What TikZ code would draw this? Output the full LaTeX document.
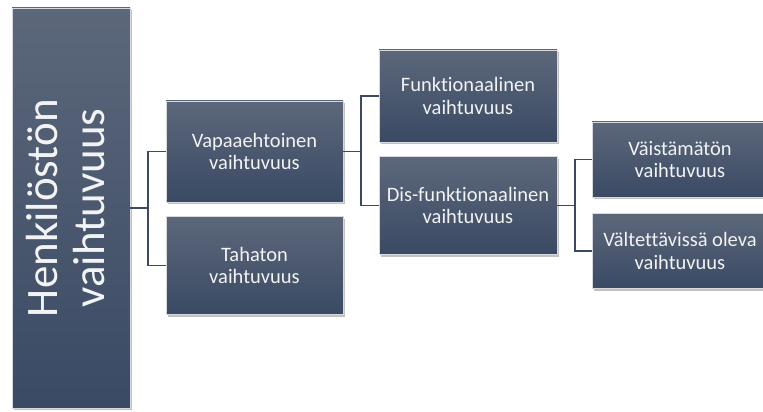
\documentclass[tikz,border=0pt]{standalone}
\usepackage{fontspec}
\setmainfont{Carlito}[Ligatures=NoCommon]
\usepackage{tikz}
\usetikzlibrary{positioning,shadows}
\definecolor{Slate}{HTML}{5C677A}
\definecolor{Navy}{HTML}{3A4A64}
\definecolor{Wire}{HTML}{3B4A60}
\tikzset{
 box/.style={rectangle,top color=Slate,bottom color=Navy,draw=white!75!Slate,line width=0.6pt,
   text=white!92!Slate,align=center,font=\fontsize{20.5}{22.5}\selectfont,
   minimum width=177pt,inner sep=2pt,
   drop shadow={shadow xshift=1.5pt,shadow yshift=-2.5pt,opacity=0.35,fill=black!70}},
 conn/.style={draw=Wire,line width=1.8pt}
}
\begin{document}
\begin{tikzpicture}[x=1pt,y=1pt,node distance=14pt]
\useasboundingbox (0,0) rectangle (763,412);
\node[box,minimum width=118pt,minimum height=400pt,font=\fontsize{45}{50}\selectfont] (root) at (71,204)
  {\rotatebox{90}{\begin{tabular}{@{}c@{}}Henkilöstön\\[-4pt] vaihtuvuus\end{tabular}}};
\node[box,minimum height=101pt] (vapaa) at (254.5,260.5) {Vapaaehtoinen\\vaihtuvuus};
\node[box,minimum height=98pt,below=of vapaa] (tahaton) {Tahaton\\vaihtuvuus};
\node[box,minimum width=178pt,minimum height=92pt] (funk) at (468,316) {Funktionaalinen\\vaihtuvuus};
\node[box,minimum width=178pt,minimum height=98pt,below=of funk] (dis) {Dis-funktionaalinen\\vaihtuvuus};
\node[box,minimum width=176pt,minimum height=75pt] (vaist) at (680,252.5) {Väistämätön\\vaihtuvuus};
\node[box,minimum width=176pt,minimum height=75pt,below=16pt of vaist] (valt) {Vältettävissä oleva\\vaihtuvuus};
\foreach \a/\b in {root/vapaa,root/tahaton,vapaa/funk,vapaa/dis,dis/vaist,dis/valt}
  \draw[conn] (\a.east) -- ++(18,0) |- (\b.west);
\end{tikzpicture}
\end{document}
